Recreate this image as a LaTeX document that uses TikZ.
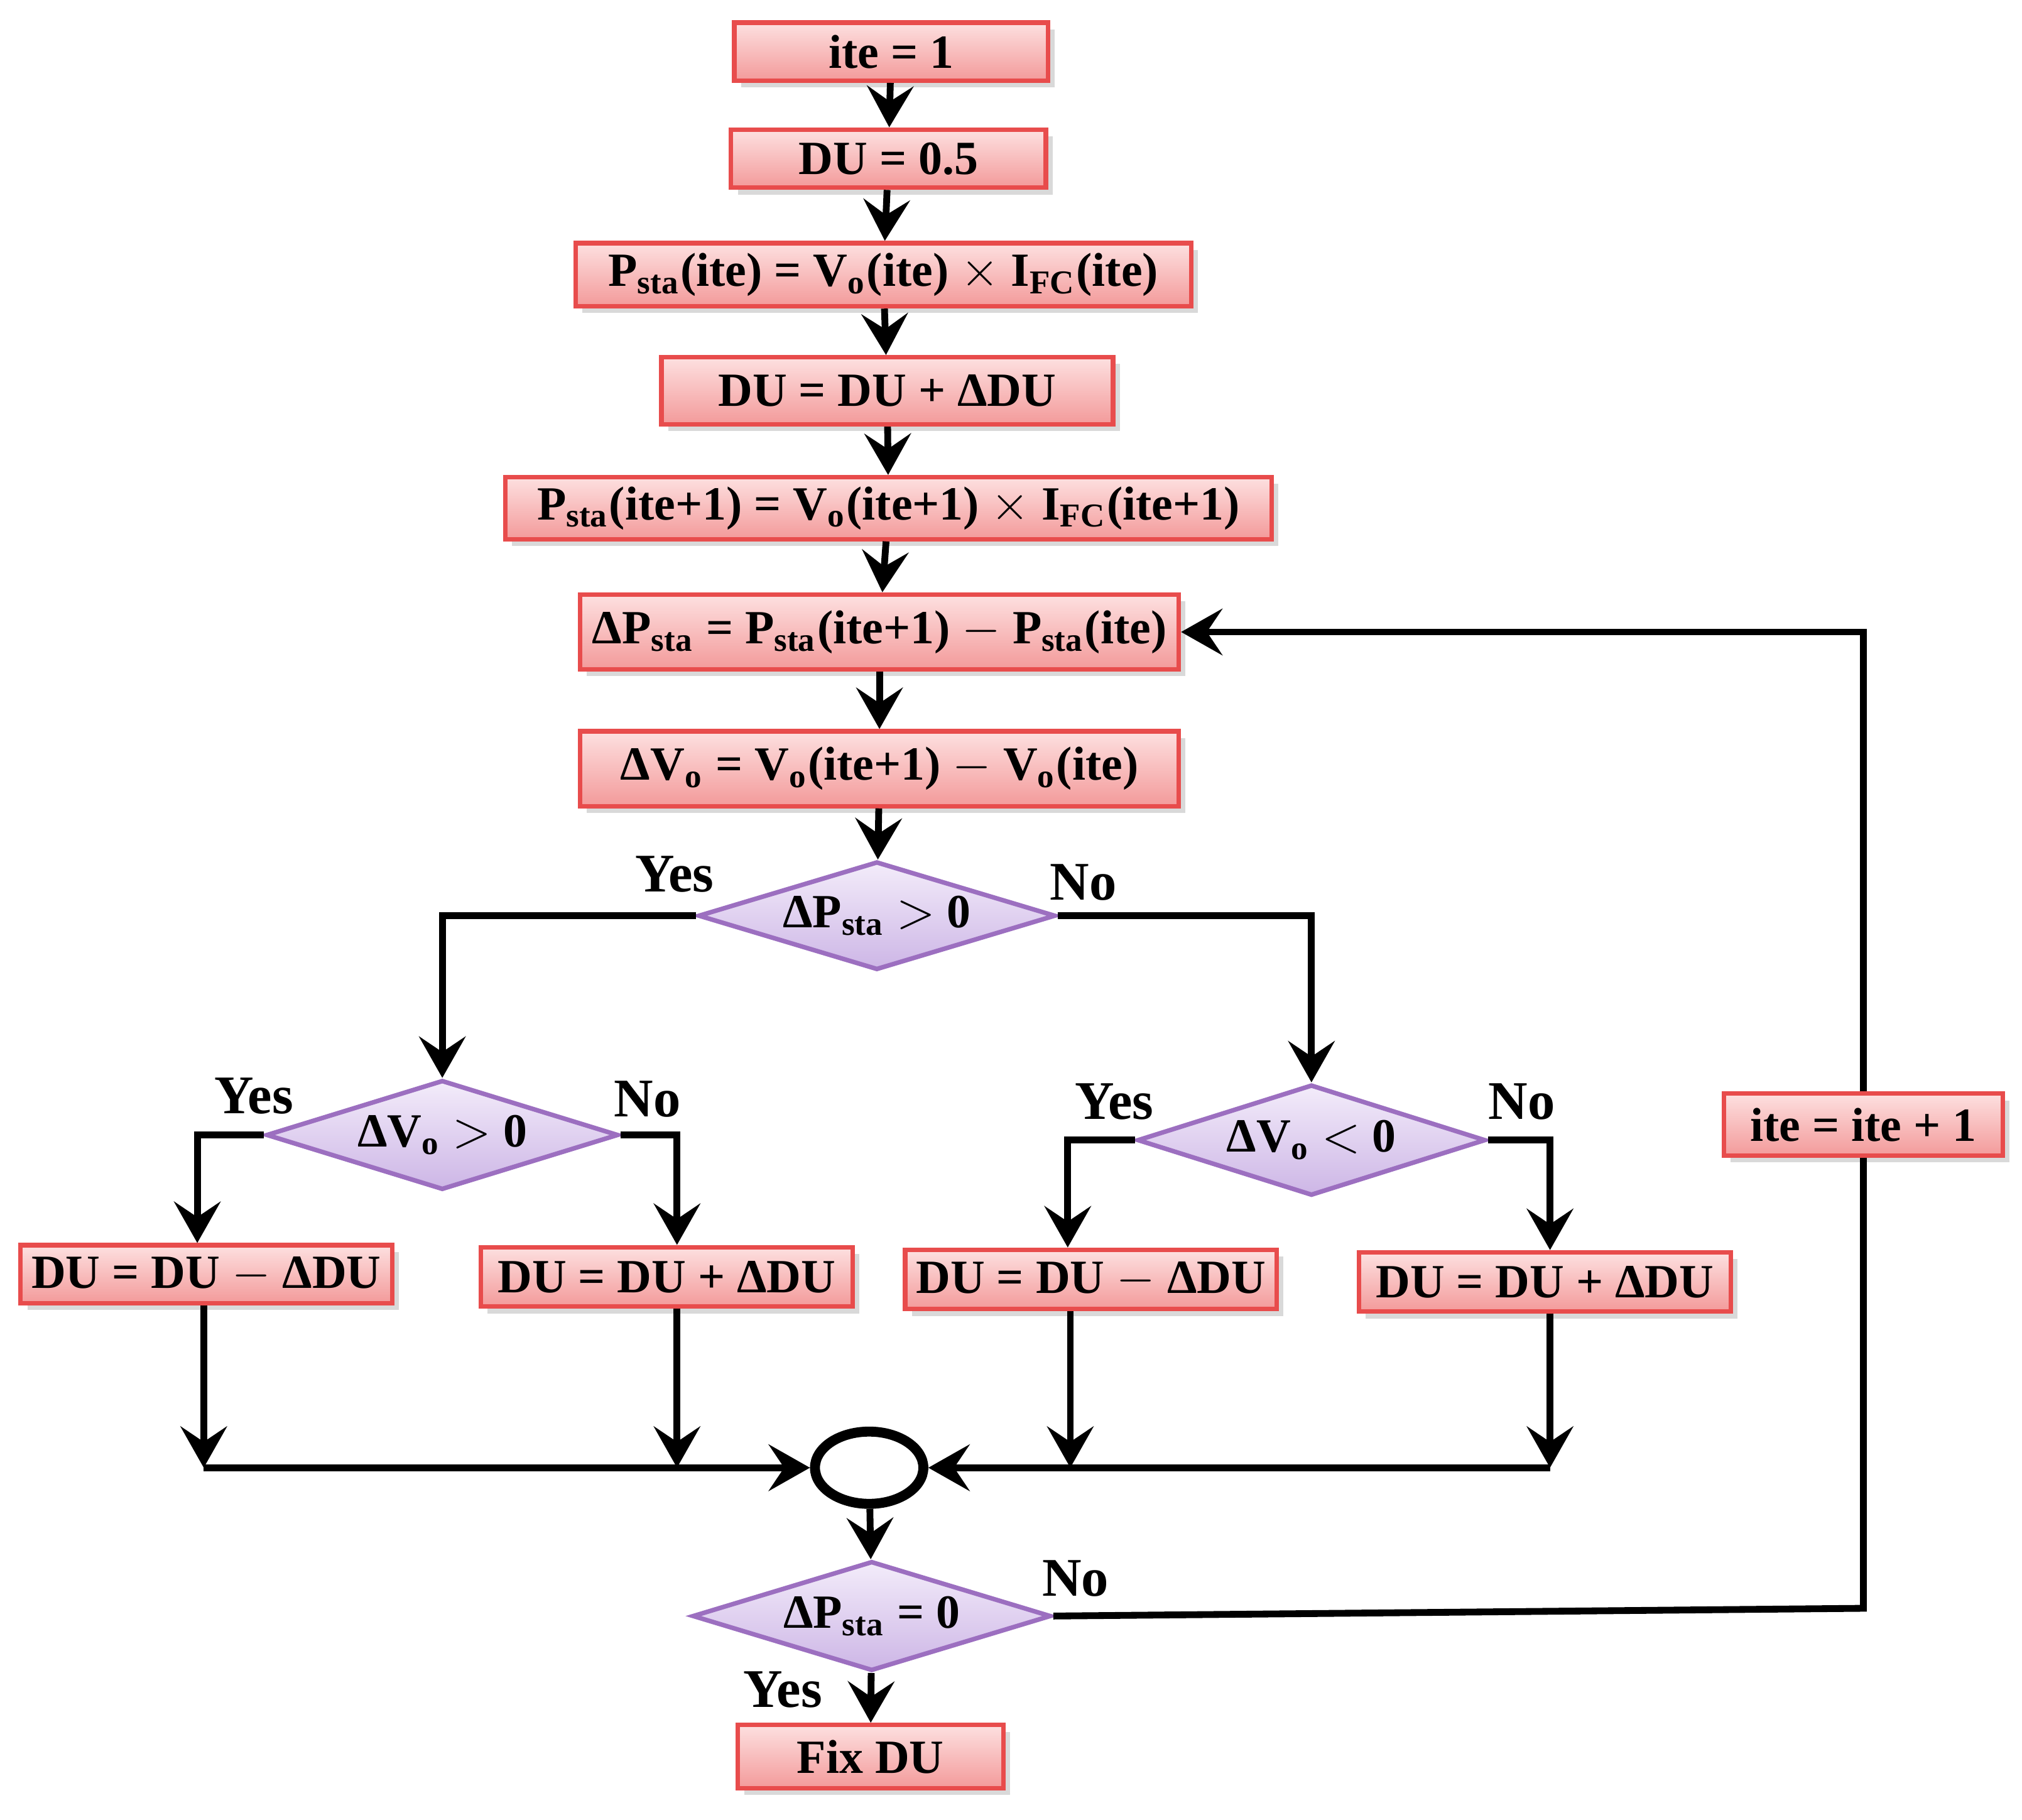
\documentclass[tikz,border=0pt]{standalone}
\usepackage{fontspec}
\setmainfont{Liberation Serif}
\usetikzlibrary{shapes.geometric,arrows.meta,shadows}
\definecolor{boxred}{HTML}{E84C4C}
\definecolor{boxtop}{HTML}{FDE0E0}
\definecolor{boxbot}{HTML}{F39A9A}
\definecolor{dialine}{HTML}{9C6FC0}
\definecolor{diatop}{HTML}{F3ECFA}
\definecolor{diabot}{HTML}{CDB6E6}
\tikzset{
  proc/.style={rectangle,draw=boxred,line width=1pt,top color=boxtop,bottom color=boxbot,
    drop shadow={opacity=0.3,shadow xshift=1.5pt,shadow yshift=-1.5pt},
    font=\fontsize{10.5}{12}\selectfont\bfseries,inner sep=0pt},
  dec/.style={diamond,aspect=3.2,draw=dialine,line width=1pt,top color=diatop,bottom color=diabot,
    font=\fontsize{10.5}{12}\selectfont\bfseries,inner sep=0pt},
  arr/.style={line width=1.5pt,-{Stealth[length=3.2mm,width=3.6mm,inset=1.2mm]}},
  ln/.style={line width=1.5pt},
  lbl/.style={font=\fontsize{12}{14}\selectfont\bfseries}
}
\newcommand{\sub}[1]{\textsubscript{#1}}
\begin{document}
\begin{tikzpicture}[x=0.01cm,y=-0.01cm]
\useasboundingbox (0,0) rectangle (1568,1411);
%boxes top column
\node[proc,minimum width=2.43cm,minimum height=0.45cm] (ite) at (691,40) {ite = 1};
\node[proc,minimum width=2.44cm,minimum height=0.45cm] (du0) at (689,123) {DU = 0.5};
\node[proc,minimum width=4.77cm,minimum height=0.49cm] (pa) at (685,213) {P\sub{sta}(ite) = V\sub{o}(ite) $\times$ I\sub{FC}(ite)};
\node[proc,minimum width=3.50cm,minimum height=0.52cm] (du1) at (688,303) {DU = DU + ΔDU};
\node[proc,minimum width=5.94cm,minimum height=0.48cm] (pb) at (689,394) {P\sub{sta}(ite+1) = V\sub{o}(ite+1) $\times$ I\sub{FC}(ite+1)};
\node[proc,minimum width=4.64cm,minimum height=0.58cm] (dp) at (682,490) {ΔP\sub{sta} = P\sub{sta}(ite+1) $-$ P\sub{sta}(ite)};
\node[proc,minimum width=4.64cm,minimum height=0.58cm] (dv) at (682,596) {ΔV\sub{o} = V\sub{o}(ite+1) $-$ V\sub{o}(ite)};
%decisions
\node[dec,minimum width=2.77cm,minimum height=0.84cm] (d1) at (680,710) {ΔP\sub{sta} $>$ 0};
\node[dec,minimum width=2.73cm,minimum height=0.85cm] (d2) at (343,880) {ΔV\sub{o} $>$ 0};
\node[dec,minimum width=2.70cm,minimum height=0.86cm] (d3) at (1017,884) {ΔV\sub{o} $<$ 0};
%update boxes
\node[proc,minimum width=2.88cm,minimum height=0.45cm] (l1) at (160,988) {DU = DU $-$ ΔDU};
\node[proc,minimum width=2.88cm,minimum height=0.46cm] (l2) at (517,990) {DU = DU + ΔDU};
\node[proc,minimum width=2.88cm,minimum height=0.46cm] (r1) at (846,992) {DU = DU $-$ ΔDU};
\node[proc,minimum width=2.88cm,minimum height=0.46cm] (r2) at (1198,994) {DU = DU + ΔDU};
\node[proc,minimum width=2.16cm,minimum height=0.48cm] (inc) at (1445,872) {ite = ite + 1};
%merge and end
\node[ellipse,draw,line width=2.2pt,minimum width=0.84cm,minimum height=0.56cm] (mg) at (674,1138) {};
\node[dec,minimum width=2.78cm,minimum height=0.85cm] (d4) at (676,1253) {ΔP\sub{sta} = 0};
\node[proc,minimum width=2.06cm,minimum height=0.49cm] (fix) at (675,1362) {Fix DU};
\coordinate (a1) at (158,1138);
\coordinate (a2) at (525,1138);
\coordinate (a3) at (830,1138);
\coordinate (a4) at (1202,1138);
%arrows
\draw[arr] (ite) -- (du0);
\draw[arr] (du0) -- (pa);
\draw[arr] (pa) -- (du1);
\draw[arr] (du1) -- (pb);
\draw[arr] (pb) -- (dp);
\draw[arr] (dp) -- (dv);
\draw[arr] (dv) -- (d1);
\draw[arr] (d1.west) -| (d2.north);
\draw[arr] (d1.east) -| (d3.north);
\draw[arr] (d2.west) -| (l1.north -| 153,0);
\draw[arr] (d2.east) -| (l2.north -| 525,0);
\draw[arr] (d3.west) -| (r1.north -| 828,0);
\draw[arr] (d3.east) -| (r2.north -| 1202,0);
\draw[arr] (l1.south -| a1) -- (a1);
\draw[arr] (l2.south -| a2) -- (a2);
\draw[arr] (r1.south -| a3) -- (a3);
\draw[arr] (r2.south -| a4) -- (a4);
\draw[arr] (a1) -- (mg.west);
\draw[arr] (a4) -- (mg.east);
\draw[arr] (mg) -- (d4);
\draw[arr] (d4) -- (fix);
\draw[ln] (d4.east) -- (1445,1247) -- (inc.south);
\draw[arr] (inc.north) |- (dp.east);
%labels
\node[lbl] at (523,678) {Yes};
\node[lbl] at (840,684) {No};
\node[lbl] at (197,850) {Yes};
\node[lbl] at (502,852) {No};
\node[lbl] at (864,854) {Yes};
\node[lbl] at (1180,854) {No};
\node[lbl] at (834,1224) {No};
\node[lbl] at (607,1310) {Yes};
\end{tikzpicture}
\end{document}
